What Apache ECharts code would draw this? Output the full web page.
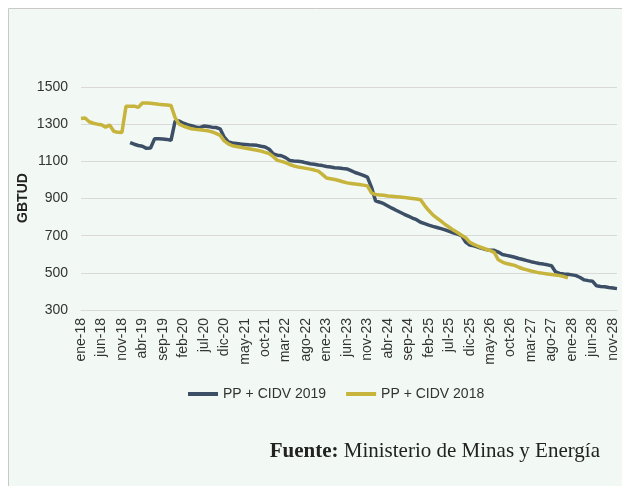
<!DOCTYPE html>
<html>
<head>
<meta charset="utf-8">
<script src="https://cdn.jsdelivr.net/npm/echarts@6/dist/echarts.min.js"></script>
<style>
  html, body { margin: 0; padding: 0; background: #ffffff; }
  #chart { width: 622px; height: 486px; }
</style>
</head>
<body>
<div id="chart"></div>
<script>
// meses ene-18 .. dic-28
var meses = ['ene', 'feb', 'mar', 'abr', 'may', 'jun', 'jul', 'ago', 'sep', 'oct', 'nov', 'dic']
var anios = ['18', '19', '20', '21', '22', '23', '24', '25', '26', '27', '28']
var categorias = []
for (var a = 0; a < anios.length; a++) {
    for (var m = 0; m < meses.length; m++) {
        categorias.push(meses[m] + '-' + anios[a])
    }
}

var yTicks = [300, 500, 700, 900, 1100, 1300, 1500]

// PP + CIDV 2018 (ene-18 .. dic-27)
var pp2018 = [
    1330, 1333, 1313, 1305, 1300, 1297, 1284, 1295, 1262, 1256, 1255, 1396,
    1397, 1397, 1390, 1414, 1414, 1412, 1410, 1407, 1405, 1403, 1400, 1335,
    1300, 1290, 1282, 1275, 1272, 1270, 1267, 1264, 1259, 1250, 1240, 1210,
    1194, 1184, 1180, 1176, 1172, 1168, 1164, 1160, 1155, 1148, 1142, 1125,
    1105, 1100, 1093, 1083, 1075, 1070, 1066, 1062, 1058, 1053, 1047, 1030,
    1010, 1006, 1002, 997, 990, 984, 981, 978, 975, 972, 968, 930,
    921, 919, 917, 914, 912, 910, 908, 906, 903, 900, 897, 893,
    862, 835, 812, 795, 778, 760, 745, 730, 717, 702, 689, 665,
    653, 643, 635, 627, 620, 610, 570, 558, 550, 545, 540, 530,
    522, 516, 510, 505, 500, 497, 494, 491, 488, 485, 480, 473
]

// PP + CIDV 2019 (ene-19 .. dic-28)
var pp2019 = [
    null, null, null, null, null, null, null, null, null, null, null, null,
    1201, 1192, 1185, 1181, 1170, 1172, 1222, 1222, 1220, 1218, 1213, 1316,
    1317, 1305, 1297, 1292, 1285, 1281, 1290, 1287, 1284, 1282, 1275, 1230,
    1205, 1199, 1196, 1193, 1191, 1189, 1188, 1186, 1181, 1177, 1165, 1140,
    1133, 1130, 1120, 1105, 1102, 1100, 1098, 1092, 1087, 1084, 1080, 1077,
    1072, 1069, 1066, 1064, 1061, 1059, 1050, 1040, 1032, 1024, 1015, 960,
    887, 880, 872, 860, 848, 837, 826, 815, 805, 795, 786, 772,
    765, 757, 750, 744, 738, 731, 723, 715, 708, 700, 665, 650,
    645, 638, 632, 625, 621, 621, 612, 599, 594, 589, 584, 577,
    572, 566, 560, 555, 550, 547, 543, 538, 505, 497, 494, 492,
    489, 485, 475, 462, 458, 455, 430, 427, 425, 421, 418, 415
]

var azul = '#3c4f66'
var oro = '#c6b43c'

var myChart = echarts.init(document.getElementById('chart'))

var option = {
    backgroundColor: '#ffffff',
    animation: false,
    graphic: [
        {
            type: 'rect',
            z: -10,
            silent: true,
            shape: { x: 8.5, y: 8.5, width: 700, height: 600 },
            style: { fill: '#f2f8f3', stroke: '#c9c9c9', lineWidth: 1 }
        },
        {
            // titulo del eje y
            type: 'text',
            x: 23,
            y: 198,
            rotation: Math.PI / 2,
            style: {
                text: 'GBTUD',
                font: 'bold 14px "Liberation Sans", Arial, sans-serif',
                fill: '#222222',
                align: 'center',
                verticalAlign: 'middle'
            }
        },
        {
            type: 'text',
            right: 22,
            top: 441,
            style: {
                text: '{b|Fuente:} Ministerio de Minas y Energía',
                font: '21px "Liberation Serif", serif',
                fill: '#222222',
                rich: {
                    b: { fontWeight: 'bold', fontFamily: '"Liberation Serif", serif', fontSize: 21, fill: '#222222' }
                }
            }
        }
    ],
    legend: {
        left: 183,
        top: 382,
        icon: 'rect',
        itemWidth: 30,
        itemHeight: 4,
        itemGap: 20,
        textStyle: { fontFamily: '"Liberation Sans", Arial, sans-serif', fontSize: 14, color: '#333333' },
        data: ['PP + CIDV 2019', 'PP + CIDV 2018']
    },
    grid: {
        left: 81,
        right: 5,
        top: 87,
        bottom: 176
    },
    xAxis: {
        type: 'category',
        boundaryGap: false,
        data: categorias,
        axisLine: { lineStyle: { color: '#d9d9d9' } },
        axisTick: { show: false },
        axisLabel: {
            interval: 4,
            rotate: 90,
            margin: 8,
            fontFamily: '"Liberation Sans", Arial, sans-serif',
            fontSize: 14,
            color: '#333333'
        }
    },
    yAxis: {
        type: 'value',
        min: yTicks[0],
        max: yTicks[yTicks.length - 1],
        interval: 200,
        axisLine: { show: false },
        axisTick: { show: false },
        splitLine: { lineStyle: { color: '#d9d9d9' } },
        axisLabel: {
            margin: 13,
            formatter: function (v) { return String(v) },
            fontFamily: '"Liberation Sans", Arial, sans-serif',
            fontSize: 14,
            color: '#333333'
        }
    },
    series: [
        {
            name: 'PP + CIDV 2019',
            type: 'line',
            data: pp2019,
            symbol: 'none',
            color: azul,
            lineStyle: { width: 3.5, color: azul }
        },
        {
            name: 'PP + CIDV 2018',
            type: 'line',
            data: pp2018,
            symbol: 'none',
            color: oro,
            lineStyle: { width: 3.5, color: oro }
        }
    ]
}

myChart.setOption(option)
</script>
</body>
</html>
